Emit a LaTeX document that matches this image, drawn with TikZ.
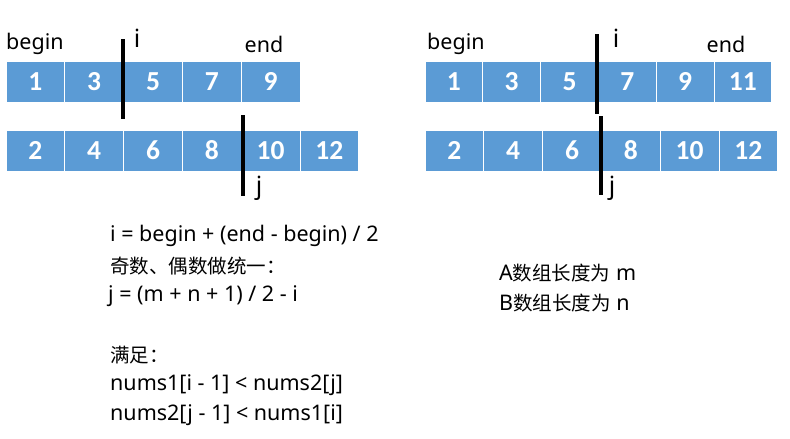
\documentclass[tikz,border=0pt]{standalone}
\usepackage{fontspec}
\setmainfont{Noto Sans}
\newfontfamily\cjk{Noto Sans CJK SC}
\newfontfamily\digitfont{Carlito}
\definecolor{cellblue}{HTML}{5B9BD5}
\tikzset{
  cellbox/.style={rectangle, fill=cellblue, draw=white, line width=1pt, inner sep=0pt,
    minimum height=41pt, text=white, font=\digitfont\bfseries\fontsize{27.5}{27.5}\selectfont},
  lbl/.style={inner sep=0pt, font=\fontsize{21.5}{21.5}\selectfont},
  ij/.style={inner sep=0pt, font=\fontsize{25}{25}\selectfont},
  txt/.style={inner sep=0pt, anchor=west, font=\fontsize{21.5}{21.5}\selectfont},
  bar/.style={line width=4pt, black}
}
\newcommand{\zh}[1]{{\cjk\fontsize{19.5}{19.5}\selectfont #1}}
\begin{document}
\begin{tikzpicture}[x=1pt,y=-1pt]
\useasboundingbox (0,0) rectangle (790,439);
% left arrays
\foreach \v [count=\k from 0] in {1,3,5,7,9}
  \node[cellbox, minimum width=58.8pt] (LA\k) at ({6+58.8*\k+29.4},81.5) {\v};
\foreach \v [count=\k from 0] in {2,4,6,8,10,12}
  \node[cellbox, minimum width=58.8pt] (LB\k) at ({6+58.8*\k+29.4},150.5) {\v};
% right arrays
\foreach \v [count=\k from 0] in {1,3,5,7,9,11}
  \node[cellbox, minimum width=57.8pt] (RA\k) at ({425+57.8*\k+28.9},81.5) {\v};
\foreach \v [count=\k from 0] in {2,4,6,8,10,12}
  \node[cellbox, minimum width=58.8pt] (RB\k) at ({425+58.8*\k+29.4},150.5) {\v};
% labels
\node[lbl, anchor=west] (lbegin) at (6,44) {begin};
\node[lbl] (lend) at (264,44) {end};
\node[lbl, anchor=west] (rbegin) at (427,44) {begin};
\node[lbl] (rend) at (726,44) {end};
% bars
\coordinate (li1) at (122.7,39); \coordinate (li2) at (122.7,119);
\coordinate (lj1) at (243,115); \coordinate (lj2) at (243,196);
\coordinate (ri1) at (597,34); \coordinate (ri2) at (597,114);
\coordinate (rj1) at (601,116); \coordinate (rj2) at (601,195);
\draw[bar] (li1) -- (li2);
\draw[bar] (lj1) -- (lj2);
\draw[bar] (ri1) -- (ri2);
\draw[bar] (rj1) -- (rj2);
\node[ij] (li) at (137,38) {i};
\node[ij] (lj) at (259,188) {j};
\node[ij] (ri) at (616,38) {i};
\node[ij] (rj) at (612,188) {j};
% text
\node[txt] (t1) at (110,236) {i = begin + (end - begin) / 2};
\node[txt] (t2) at (110,266) {\zh{奇数、偶数做统一：}};
\node[txt] (t3) at (108,296) {j = (m + n + 1) / 2 - i};
\node[txt] (t4) at (110,355) {\zh{满足：}};
\node[txt] (t5) at (110,385) {nums1[i - 1] < nums2[j]};
\node[txt] (t6) at (110,415) {nums2[j - 1] < nums1[i]};
\node[txt] (t7) at (499,273) {A\zh{数组长度为} m};
\node[txt] (t8) at (499,303) {B\zh{数组长度为} n};
\end{tikzpicture}
\end{document}
